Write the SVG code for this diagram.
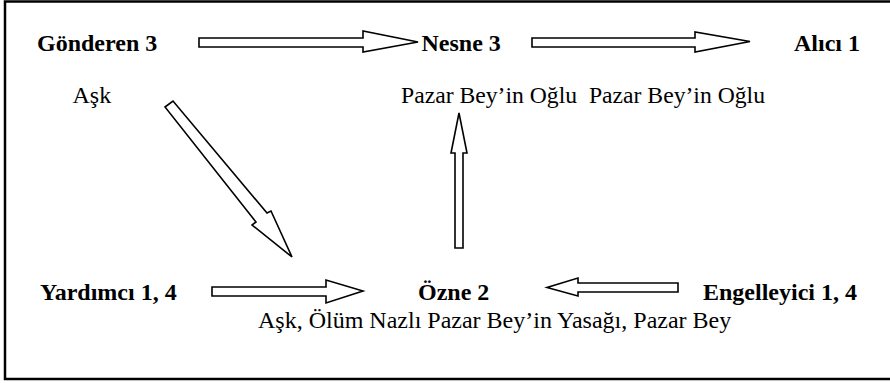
<svg xmlns="http://www.w3.org/2000/svg" width="890" height="383" viewBox="0 0 890 383">
  <style>
    .frame { fill: #ffffff; stroke: #000000; stroke-width: 2.5; }
    .lbl { font-family: "Liberation Serif", "Times New Roman", serif; font-size: 24px; fill: #000000; }
    .b { font-weight: bold; }
    .arrow { fill: #ffffff; stroke: #000000; stroke-width: 1.6; stroke-linejoin: miter; }
  </style>
  <rect class="frame" x="5" y="1.5" width="888" height="377.5"/>

  <g id="connectors">
    <polygon class="arrow" points="199,38 363,38 363,31 418,42 363,52 363,47 199,47"/>
    <polygon class="arrow" points="532,38 695,38 695,32 750,41.5 695,52 695,47 532,47"/>
    <polygon class="arrow" points="455,248 455,153 451,153 459,113 467,153 463,153 463,248"/>
    <polygon class="arrow" points="212,287 326,287 326,280 363,291 326,303 326,296 212,296"/>
    <polygon class="arrow" points="678,283 578,283 578,278 547,287.5 578,296 578,292 678,292"/>
    <polygon class="arrow" points="165,107 173,101 267,213 271,211 292,257 252,225 256,222"/>
  </g>

  <g id="gonderen">
    <text class="lbl b" x="37" y="50.5">Gönderen 3</text>
    <text class="lbl" x="72.5" y="103">Aşk</text>
  </g>
  <g id="nesne">
    <text class="lbl b" x="421.5" y="50.5">Nesne 3</text>
    <text class="lbl" x="401" y="103" xml:space="preserve" style="white-space: pre" textLength="364" lengthAdjust="spacingAndGlyphs">Pazar Bey’in Oğlu  Pazar Bey’in Oğlu</text>
  </g>
  <g id="alici">
    <text class="lbl b" x="794" y="50.5">Alıcı 1</text>
  </g>
  <g id="yardimci">
    <text class="lbl b" x="40" y="300">Yardımcı 1, 4</text>
  </g>
  <g id="ozne">
    <text class="lbl b" x="418" y="300">Özne 2</text>
    <text class="lbl" x="258" y="327.5">Aşk, Ölüm Nazlı Pazar Bey’in Yasağı, Pazar Bey</text>
  </g>
  <g id="engelleyici">
    <text class="lbl b" x="703" y="300">Engelleyici 1, 4</text>
  </g>
</svg>
